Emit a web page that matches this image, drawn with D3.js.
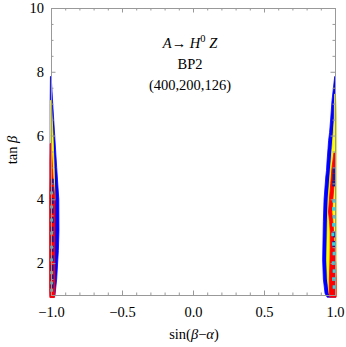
<!DOCTYPE html>
<html>
<head>
<meta charset="utf-8">
<script src="https://cdn.jsdelivr.net/npm/d3@7"></script>
<style>
  body { margin: 0; background: #fff; }
  text { font-family: "Liberation Serif", "DejaVu Serif", serif; }
</style>
</head>
<body>
<div id="chart"></div>
<script>
// ticks
var xMajor = [-1.0, -0.5, 0.0, 0.5, 1.0];
var xMinor = [-0.9, -0.8, -0.7, -0.6, -0.4, -0.3, -0.2, -0.1, 0.1, 0.2, 0.3, 0.4, 0.6, 0.7, 0.8, 0.9];
var yMajor = [2, 4, 6, 8, 10];
var yMinor = [1.5, 2.5, 3, 3.5, 4.5, 5, 5.5, 6.5, 7, 7.5, 8.5, 9, 9.5];

// allowed regions: [tanBeta, sin(b-a) low, sin(b-a) high]
var leftBlue = [[7.85, -1.004, -0.999], [7.0, -1.006, -0.988], [6.0, -1.006, -0.974], [5.0, -1.006, -0.96],
  [4.0, -1.006, -0.945], [3.0, -1.006, -0.944], [2.4, -1.006, -0.948], [1.5, -1.006, -0.96],
  [1.0, -1.006, -0.972], [0.93, -1.004, -0.98]];
var leftYellow = [[7.1, -1.004, -0.998], [6.0, -1.004, -0.986], [5.0, -1.004, -0.978], [4.0, -1.004, -0.972]];
var leftRed = [[5.75, -1.006, -0.999], [5.2, -1.008, -0.992], [4.7, -1.008, -0.986], [4.0, -1.01, -0.972],
  [3.0, -1.01, -0.973], [2.0, -1.01, -0.975], [1.2, -1.01, -0.972], [0.92, -1.008, -0.975]];
var rightBlue = [[7.85, 0.998, 1.002], [7.1, 0.979, 1.004], [6.55, 0.97, 1.006], [6.1, 0.962, 1.006],
  [5.85, 0.955, 1.006], [5.6, 0.951, 1.006], [5.2, 0.944, 1.006], [4.9, 0.94, 1.006], [4.7, 0.935, 1.006],
  [4.0, 0.923, 1.006], [3.3, 0.918, 1.006], [2.1, 0.913, 1.006], [1.5, 0.918, 1.006], [1.05, 0.93, 1.006],
  [0.93, 0.945, 1.004]];
var rightYellow = [[7.3, 0.998, 1.002], [7.0, 0.996, 1.006], [6.55, 0.995, 1.008], [6.1, 0.988, 1.008],
  [5.6, 0.979, 1.008], [5.2, 0.972, 1.008], [4.7, 0.963, 1.008], [4.0, 0.951, 1.008], [3.3, 0.946, 1.008],
  [2.1, 0.941, 1.008], [1.5, 0.946, 1.008], [1.05, 0.958, 1.008], [0.95, 0.97, 1.006]];
var rightRed = [[5.45, 0.992, 1.004], [5.0, 0.979, 1.0], [4.5, 0.97, 0.994], [4.0, 0.961, 0.985],
  [3.6, 0.954, 0.978], [3.3, 0.962, 0.985], [3.0, 0.966, 0.99], [2.5, 0.966, 0.995], [2.0, 0.964, 1.005],
  [1.5, 0.96, 1.008], [1.0, 0.96, 1.008], [0.93, 0.963, 1.008]];

// scattered points: [tanBeta, sin(b-a)]
var leftNavy = [[4.55, -0.992], [4.3, -0.993], [3.95, -0.992], [3.65, -0.993], [3.35, -0.992], [3.05, -0.993],
  [2.75, -0.992], [2.45, -0.993], [2.15, -0.992], [1.85, -0.993], [1.55, -0.992], [1.3, -0.993]];
var leftCyan = [[4.2, -0.996], [3.76, -0.996], [3.35, -0.996], [2.94, -0.996], [2.5, -0.996], [2.1, -0.996],
  [1.7, -0.996], [1.38, -0.996], [1.15, -0.996]];
var rightNavy = [[4.9, 0.994], [4.7, 0.993], [4.5, 0.991], [2.9, 0.996], [2.6, 0.994]];
var rightCyan = [[3.95, 0.992], [3.7, 0.99], [3.45, 0.994], [3.2, 0.99], [2.9, 0.985], [2.6, 0.99],
  [2.3, 0.994], [2.0, 0.988], [1.75, 0.994], [1.5, 0.99], [1.25, 0.994]];

var width = 346, height = 347;
var svg = d3.select("#chart").append("svg")
    .attr("width", width)
    .attr("height", height);

var x = d3.scaleLinear().domain([-1, 1]).range([51, 335]);
var y = d3.scaleLinear().domain([1, 10]).range([295, 8]);

var area = d3.area()
    .x0(function(d) { return x(d[1]); })
    .x1(function(d) { return x(d[2]); })
    .y(function(d) { return y(d[0]); });

var layers = [
  [leftBlue, "#0000ff"], [leftYellow, "#ffff00"], [leftRed, "#ff0000"],
  [rightBlue, "#0000ff"], [rightYellow, "#ffff00"], [rightRed, "#ff0000"]
];
layers.forEach(function(l) {
  svg.append("path")
      .datum(l[0])
      .attr("d", area)
      .attr("fill", l[1])
      .attr("stroke", l[1])
      .attr("stroke-width", 0.8);
});

function marks(data, col, w, h) {
  svg.append("g").selectAll("rect")
      .data(data)
      .enter().append("rect")
      .attr("x", function(d) { return x(d[1]) - w / 2; })
      .attr("y", function(d) { return y(d[0]) - h / 2; })
      .attr("width", w)
      .attr("height", h)
      .attr("fill", col);
}
marks(leftNavy, "#1c1c8c", 3, 6);
marks(rightNavy, "#1c1c8c", 3, 6);
marks(leftCyan, "#22dde8", 2.5, 3);
marks(rightCyan, "#22dde8", 3, 3.5);

// frame + ticks
var fmt = d3.format(".1f");
function frame(axis, tr, vals, size, labels) {
  var g = svg.append("g")
      .attr("transform", tr)
      .call(axis.tickValues(vals).tickSize(size).tickPadding(7).tickFormat(labels ? labels : ""));
  g.select(".domain").attr("stroke", "#999");
  g.selectAll(".tick line").attr("stroke", "#999");
  g.selectAll(".tick text")
      .attr("fill", "#000")
      .style("font-size", "14.5px")
      .style("font-family", "'Liberation Serif', serif");
  return g;
}
frame(d3.axisBottom(x), "translate(0,295)", xMinor, -2.5);
frame(d3.axisBottom(x), "translate(0,295)", xMajor, -4.5, fmt).selectAll(".tick text").attr("dy", "1.05em");
frame(d3.axisTop(x), "translate(0,8)", xMinor, -2.5);
frame(d3.axisTop(x), "translate(0,8)", xMajor, -4.5);
frame(d3.axisLeft(y), "translate(51,0)", yMinor, -2.5);
frame(d3.axisLeft(y), "translate(51,0)", yMajor, -4.5, d3.format("d"));
frame(d3.axisRight(y), "translate(335,0)", yMinor, -2.5);
frame(d3.axisRight(y), "translate(335,0)", yMajor, -4.5);

// axis titles
var xl = svg.append("text")
    .attr("x", 194).attr("y", 339)
    .attr("text-anchor", "middle")
    .style("font-size", "14.5px");
xl.append("tspan").text("sin(");
xl.append("tspan").attr("font-style", "italic").text("β");
xl.append("tspan").text("−");
xl.append("tspan").attr("font-style", "italic").text("α");
xl.append("tspan").text(")");

var yl = svg.append("text")
    .attr("transform", "translate(17,150) rotate(-90)")
    .attr("text-anchor", "middle")
    .style("font-size", "14.5px");
yl.append("tspan").text("tan ");
yl.append("tspan").attr("font-style", "italic").text("β");

// process label
var t1 = svg.append("text")
    .attr("x", 190).attr("y", 48)
    .attr("text-anchor", "middle")
    .style("font-size", "14.5px");
t1.append("tspan").attr("font-style", "italic").text("A");
t1.append("tspan").text("→ ");
t1.append("tspan").attr("font-style", "italic").text("H");
t1.append("tspan").attr("dy", -6).style("font-size", "10.5px").text("0");
t1.append("tspan").attr("dy", 6).text(" ");
t1.append("tspan").attr("font-style", "italic").text("Z");

svg.append("text")
    .attr("x", 190).attr("y", 69)
    .attr("text-anchor", "middle")
    .style("font-size", "14.5px")
    .text("BP2");
svg.append("text")
    .attr("x", 190).attr("y", 90)
    .attr("text-anchor", "middle")
    .style("font-size", "14.5px")
    .text("(400,200,126)");
</script>
</body>
</html>
